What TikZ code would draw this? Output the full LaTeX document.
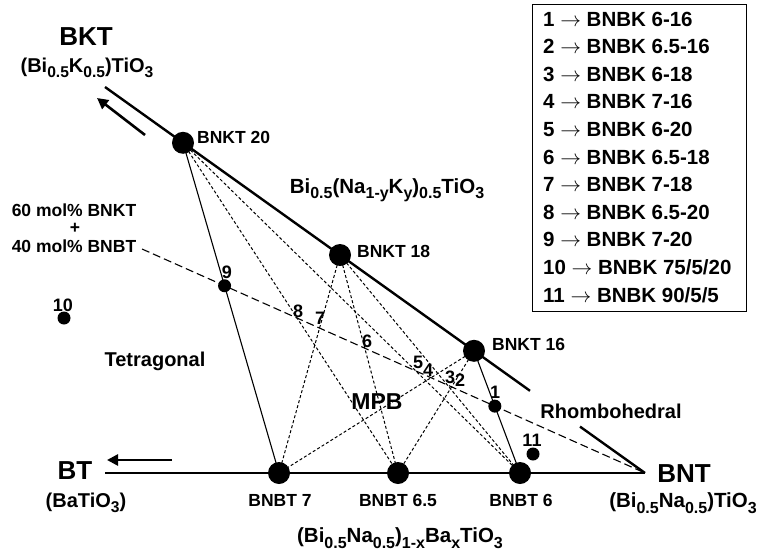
\documentclass[tikz,border=0pt]{standalone}
\usepackage{fontspec}
\setmainfont{Liberation Sans}
\usetikzlibrary{arrows.meta}
\newcommand{\lo}[1]{\raisebox{-0.5ex}{\scalebox{0.78}{#1}}}
\tikzset{
 fs/.style={inner sep=0pt, font=\bfseries\fontsize{#1}{#1}\selectfont},
 numlbl/.style={fs=18},
 ptlbl/.style={fs=17.5},
 bigdot/.style={circle, fill=black, inner sep=0pt, minimum size=22pt},
 smalldot/.style={circle, fill=black, inner sep=0pt, minimum size=13pt},
 thickline/.style={line width=2.4pt},
 baseline/.style={line width=1.7pt},
 thinline/.style={line width=1.1pt},
 dotline/.style={line width=1pt, dash pattern=on 3pt off 2.2pt},
 dashline/.style={line width=1.1pt, dash pattern=on 8pt off 4pt},
 bigarrow/.style={line width=2.6pt, -{Triangle[length=11pt,width=11pt]}},
}
\begin{document}
\begin{tikzpicture}[x=1pt,y=-1pt]
\useasboundingbox (0,0) rectangle (767,559);
% key points
\coordinate (bkt) at (105,87);
\coordinate (bnt) at (645,473);
\coordinate (bt) at (105,473);
\coordinate (k20) at (183,142.8);
\coordinate (k18) at (340,255);
\coordinate (k16) at (474,350.8);
\coordinate (hypA) at (530,390.8);
\coordinate (hypB) at (580,426.6);
\coordinate (b7) at (279,473);
\coordinate (b65) at (398,473);
\coordinate (b6) at (520,473);
\coordinate (mix) at (142,249);
\coordinate (p9) at (intersection of k20--b7 and mix--bnt);
\coordinate (p1) at (intersection of k16--b6 and mix--bnt);
\coordinate (p10) at (64,318);
\coordinate (p11) at (533,454);
% main axes
\draw[thickline] (bkt) -- (hypA);
\draw[thickline] (hypB) -- (bnt);
\draw[baseline] (bt) -- (bnt);
% solid tie lines
\draw[thinline] (k20) -- (b7);
\draw[thinline] (k16) -- (b6);
% dotted tie lines
\draw[dotline] (k20) -- (b65);
\draw[dotline] (k20) -- (b6);
\draw[dotline] (k18) -- (b7);
\draw[dotline] (k18) -- (b65);
\draw[dotline] (k18) -- (b6);
\draw[dotline] (k16) -- (b65);
\draw[dotline] (k16) -- (b7);
% 60/40 line
\draw[dashline] (mix) -- (bnt);
% arrows
\coordinate (a1s) at (145,135); \coordinate (a1e) at (97,98);
\draw[bigarrow] (a1s) -- (a1e);
\coordinate (a2s) at (172,460); \coordinate (a2e) at (107,460);
\draw[bigarrow] (a2s) -- (a2e);
% dots
\node[bigdot] (n20) at (k20) {};
\node[bigdot] (n18) at (k18) {};
\node[bigdot] (n16) at (k16) {};
\node[bigdot] (n7) at (b7) {};
\node[bigdot] (n65) at (b65) {};
\node[bigdot] (n6) at (b6) {};
\node[smalldot] (d9) at (p9) {};
\node[smalldot] (d1) at (p1) {};
\node[smalldot] (d10) at (p10) {};
\node[smalldot] (d11) at (p11) {};
% end labels
\node[fs=26] (tbkt) at (86,37) {BKT};
\node[fs=20] (fbkt) at (87,68) {(Bi\lo{0.5}K\lo{0.5})TiO\lo{3}};
\node[fs=26] (tbt) at (75,471) {BT};
\node[fs=20] (fbt) at (86,503) {(BaTiO\lo{3})};
\node[fs=26] (tbnt) at (684,474) {BNT};
\node[fs=20.5] (fbnt) at (683,503) {(Bi\lo{0.5}Na\lo{0.5})TiO\lo{3}};
\node[fs=20.5] (fbnbt) at (400,538) {(Bi\lo{0.5}Na\lo{0.5})\lo{1-x}Ba\lo{x}TiO\lo{3}};
\node[fs=20.5] (fbnkt) at (387,190) {Bi\lo{0.5}(Na\lo{1-y}K\lo{y})\lo{0.5}TiO\lo{3}};
% point labels
\node[ptlbl, anchor=west] (l20) at (197,137) {BNKT 20};
\node[ptlbl, anchor=west] (l18) at (357,251) {BNKT 18};
\node[ptlbl, anchor=west] (l16) at (492,344) {BNKT 16};
\node[ptlbl] (l7) at (280,500) {BNBT 7};
\node[ptlbl] (l65) at (398,500) {BNBT 6.5};
\node[ptlbl] (l6) at (521,500) {BNBT 6};
% mixture label
\node[fs=17.5] (m1) at (74,210) {60 mol\% BNKT};
\node[fs=17.5] (m2) at (75,228) {+};
\node[fs=17.5] (m3) at (74,246) {40 mol\% BNBT};
% region labels
\node[fs=20] (tet) at (155,361) {Tetragonal};
\node[fs=23] (mpb) at (377,402) {MPB};
\node[fs=20] (rho) at (611,411) {Rhombohedral};
% numbers
\node[numlbl] (t10) at (63,305) {10};
\node[numlbl] (t9) at (227,272) {9};
\node[numlbl] (t8) at (298,311) {8};
\node[numlbl] (t7) at (320,318) {7};
\node[numlbl] (t6) at (367,341) {6};
\node[numlbl] (t5) at (418,362) {5};
\node[numlbl] (t4) at (428,370) {4};
\node[numlbl] (t3) at (450,377) {3};
\node[numlbl] (t2) at (460,380) {2};
\node[numlbl] (t1) at (495,392) {1};
\node[numlbl] (t11) at (532,440) {11};
% legend
\node[draw, line width=1.1pt, inner sep=0pt, minimum width=214pt, minimum height=307pt, anchor=north west] (legend) at (532,4) {};
\foreach \t [count=\i] in {{BNBK 6-16}, {BNBK 6.5-16}, {BNBK 6-18}, {BNBK 7-16}, {BNBK 6-20}, {BNBK 6.5-18}, {BNBK 7-18}, {BNBK 6.5-20}, {BNBK 7-20}, {BNBK 75/5/20}, {BNBK 90/5/5}}
  \node[fs=20.5, anchor=west] (leg\i) at (543,{19+27.6*(\i-1)}) {\i\ $\rightarrow$ \t};
\end{tikzpicture}
\end{document}
